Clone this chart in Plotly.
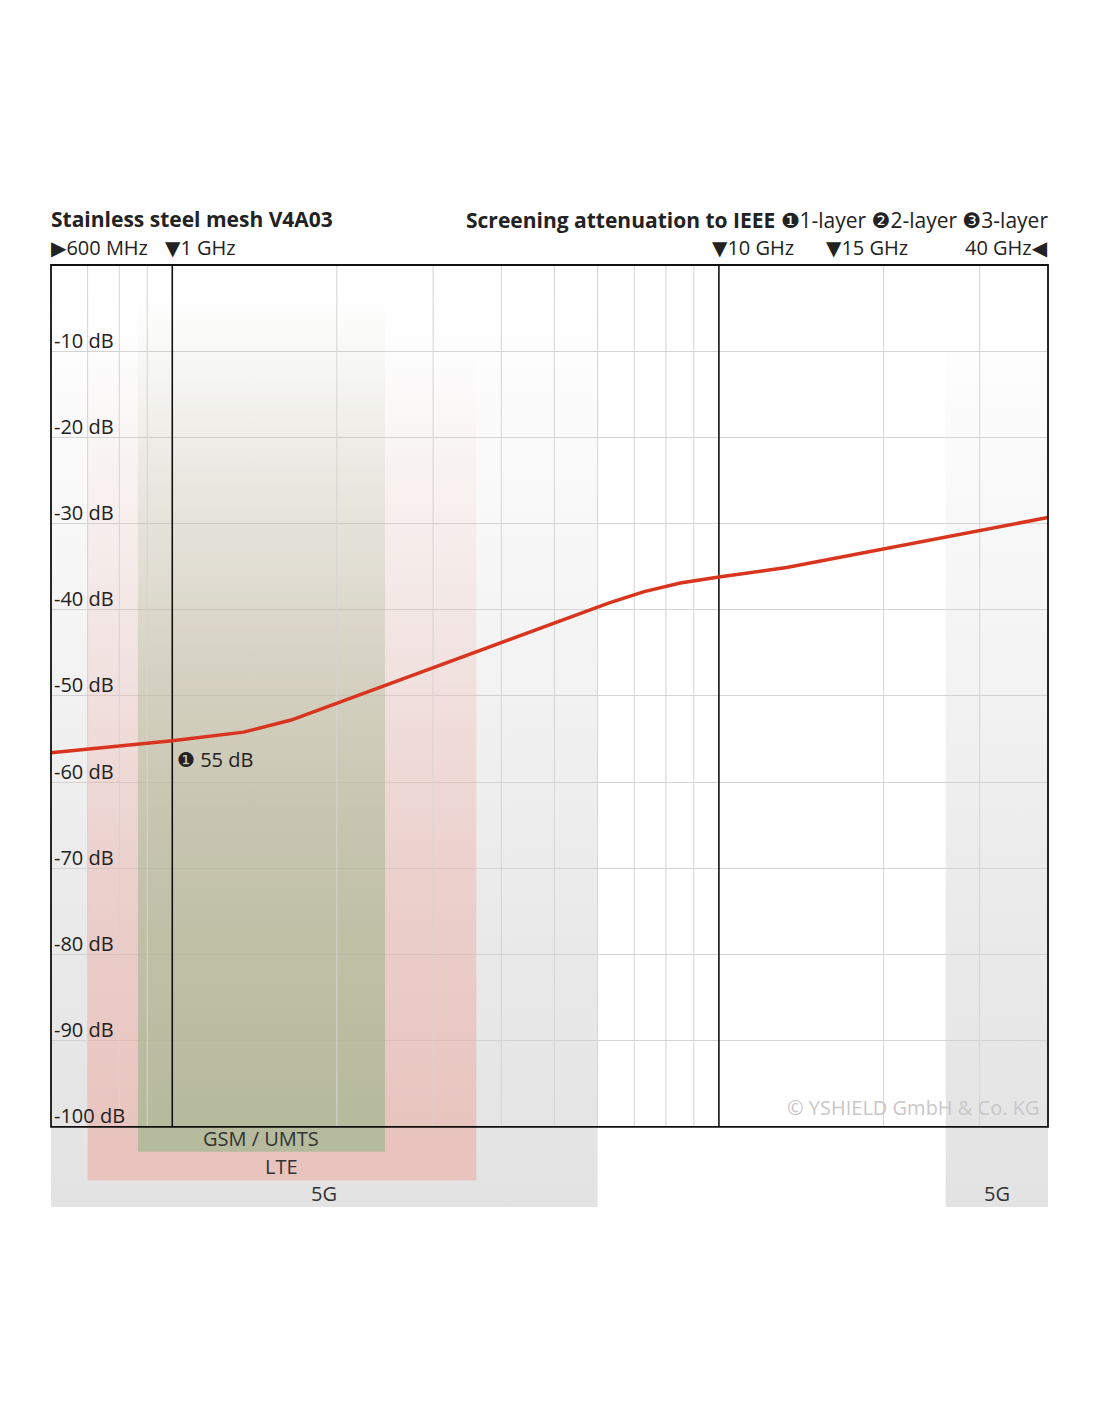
import numpy as np
import plotly.graph_objects as go

# Messkurve: Frequenz in GHz, Dämpfung in dB
freq_ghz = [0.6, 1.0, 1.35, 1.65, 6.3, 7.3, 8.5, 10, 13.3, 40]
atten_db = [-56.6, -55.2, -54.2, -52.8, -39.2, -37.9, -36.9, -36.2, -35.1, -29.3]

# Gitter
grid_freqs = [0.7, 0.8, 0.9, 2, 3, 4, 5, 6, 7, 8, 9, 20, 30]
marker_freqs = [1, 10]
db_ticks = [-10, -20, -30, -40, -50, -60, -70, -80, -90, -100]

# Funkbänder (unten -> oben gezeichnet)
band_names = ["5G", "LTE", "GSM / UMTS", "5G"]
band_lo = [0.6, 0.7, 0.865, 26]
band_hi = [6.0, 3.6, 2.45, 40]
band_top = [-3, -10, -3, -5]
band_bottom = [-109.3, -106.2, -102.9, -109.3]
band_rgb = [(208, 208, 208), (236, 172, 162), (168, 184, 148), (208, 208, 208)]
band_alpha = [0.6, 0.6, 0.8, 0.6]

F_MIN, F_MAX = 0.6, 40
Y_MIN, Y_MAX = -109.3, 0

W, H = 1100, 1422
OFF = 8  # Seitenrand des Browsers
FONT = "Open Sans, DejaVu Sans, sans-serif"
TXT = "#222222"


def py(px):
    return 1 - (px - OFF) / H


x_dom = [(51 - OFF) / W, (1048 - OFF) / W]
y_dom = [py(1207), py(265)]


def y_to_paper(v):
    return y_dom[0] + (v - Y_MIN) / (Y_MAX - Y_MIN) * (y_dom[1] - y_dom[0])


fig = go.Figure()

# Bänder mit Verlauf
for name, lo, hi, top, bot, rgb, a in zip(band_names, band_lo, band_hi, band_top,
                                          band_bottom, band_rgb, band_alpha):
    r, g, b = rgb
    fig.add_trace(go.Scatter(
        x=[lo, hi, hi, lo, lo], y=[bot, bot, top, top, bot],
        mode="lines", line=dict(width=0), fill="toself",
        fillgradient=dict(
            type="vertical",
            colorscale=[[0, f"rgba({r},{g},{b},{a})"],
                        [0.35, f"rgba({r},{g},{b},{a * 0.72:.2f})"],
                        [0.7, f"rgba({r},{g},{b},{a * 0.3:.2f})"],
                        [1, f"rgba({r},{g},{b},0)"]],
        ),
        hoverinfo="skip", showlegend=False,
    ))

# senkrechte Gitterlinien
gx, gy = [], []
for f in grid_freqs:
    gx += [f, f, None]
    gy += [-100, 0, None]
fig.add_trace(go.Scatter(x=gx, y=gy, mode="lines",
                         line=dict(color="#d4d4d4", width=1),
                         hoverinfo="skip", showlegend=False))

# 1 GHz / 10 GHz Markierungen
mx, my = [], []
for f in marker_freqs:
    mx += [f, f, None]
    my += [-100, 0, None]
fig.add_trace(go.Scatter(x=mx, y=my, mode="lines",
                         line=dict(color="#111111", width=1.6),
                         hoverinfo="skip", showlegend=False))

# Kurve
fig.add_trace(go.Scatter(x=freq_ghz, y=atten_db, mode="lines",
                         line=dict(color="#d8341e", width=3.5),
                         showlegend=False))

# Rahmen
fig.add_shape(type="rect", xref="paper", yref="paper",
              x0=x_dom[0], x1=x_dom[1], y0=y_to_paper(-100), y1=y_to_paper(0),
              line=dict(color="#111111", width=1.8), layer="above")

ann = []
# dB Beschriftungen
for v in db_ticks:
    ann.append(dict(x=x_dom[0], xref="paper", xanchor="left", xshift=1,
                    y=v, yref="y", yanchor="middle", yshift=11,
                    text=f"{v} dB", showarrow=False,
                    font=dict(size=20, color=TXT, family=FONT)))

# Bandnamen
for name, lo, hi, bot in zip(band_names, band_lo, band_hi, band_bottom):
    ann.append(dict(x=np.log10(np.sqrt(lo * hi)), xref="x", xanchor="center",
                    y=bot, yref="y", yanchor="bottom", yshift=-2,
                    text=name, showarrow=False,
                    font=dict(size=20, color="#333333", family=FONT)))

# Wert bei 1 GHz
v1 = atten_db[freq_ghz.index(1.0)]
ann.append(dict(x=0, xref="x", xanchor="left", xshift=3,
                y=v1, yref="y", yanchor="top", yshift=-3,
                text=f"\u2776 {abs(round(v1))} dB", showarrow=False,
                font=dict(size=20, color=TXT, family=FONT)))

# Copyright
ann.append(dict(x=x_dom[1], xref="paper", xanchor="right", xshift=-7,
                y=-100, yref="y", yanchor="bottom", yshift=4,
                text="© YSHIELD GmbH & Co. KG", showarrow=False,
                font=dict(size=20, color="#c8c8c8", family=FONT)))

# Kopfzeile
ann.append(dict(x=x_dom[0], xref="paper", xanchor="left", xshift=-2,
                y=py(219), yref="paper", yanchor="middle",
                text="<b>Stainless steel mesh V4A03</b>", showarrow=False,
                font=dict(size=21, color=TXT, family=FONT)))
ann.append(dict(x=x_dom[1], xref="paper", xanchor="right", xshift=2,
                y=py(220), yref="paper", yanchor="middle",
                text="<b>Screening attenuation to IEEE</b> \u27761-layer \u27772-layer \u27783-layer",
                showarrow=False, font=dict(size=21, color=TXT, family=FONT)))

head_y = py(247)
ann.append(dict(x=x_dom[0], xref="paper", xanchor="left", xshift=-2,
                y=head_y, yref="paper", yanchor="middle",
                text="\u25B6600 MHz", showarrow=False,
                font=dict(size=20, color=TXT, family=FONT)))
for f, lab, shift in [(1, "1 GHz", -9), (10, "10 GHz", -9), (15, "15 GHz", 9)]:
    ann.append(dict(x=np.log10(f), xref="x", xanchor="left", xshift=shift,
                    y=head_y, yref="paper", yanchor="middle",
                    text="\u25BC" + lab, showarrow=False,
                    font=dict(size=20, color=TXT, family=FONT)))
ann.append(dict(x=x_dom[1], xref="paper", xanchor="right", xshift=2,
                y=head_y, yref="paper", yanchor="middle",
                text="40 GHz\u25C0", showarrow=False,
                font=dict(size=20, color=TXT, family=FONT)))

fig.update_layout(
    width=W, height=H,
    margin=dict(l=0, r=0, t=0, b=0),
    paper_bgcolor="white", plot_bgcolor="white",
    font=dict(family=FONT, color=TXT),
    annotations=ann,
    xaxis=dict(type="log", range=[np.log10(F_MIN), np.log10(F_MAX)],
               domain=x_dom, showgrid=False, showticklabels=False,
               zeroline=False, showline=False, ticks=""),
    yaxis=dict(range=[Y_MIN, Y_MAX], domain=y_dom,
               tickvals=db_ticks[:-1], showticklabels=False, ticks="",
               showgrid=True, gridcolor="#d4d4d4", gridwidth=1,
               zeroline=False, showline=False),
)

fig.write_html("out.html")
